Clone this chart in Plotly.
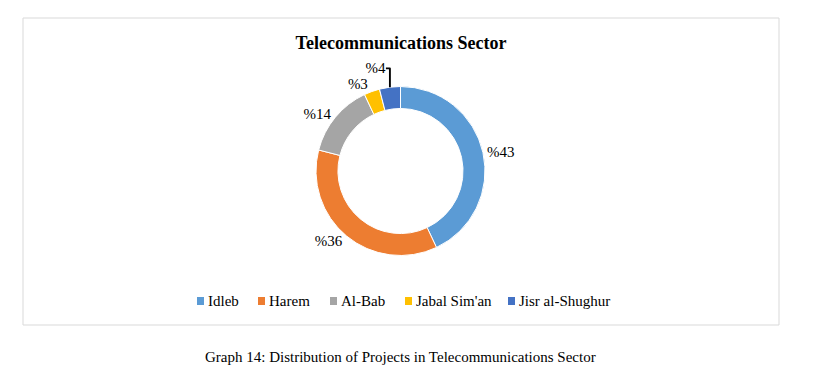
import plotly.graph_objects as go

categories = ["Idleb", "Harem", "Al-Bab", "Jabal Sim'an", "Jisr al-Shughur"]
values = [43, 36, 14, 3, 4]
colors = ["#5B9BD5", "#ED7D31", "#A5A5A5", "#FFC000", "#4472C4"]
title_text = "Telecommunications Sector"
caption_text = "Graph 14: Distribution of Projects in Telecommunications Sector"

W, H = 815, 373
cx, cy, R = 400.5, 171, 84.5
FONT = "Liberation Serif"

fig = go.Figure()
fig.add_trace(go.Pie(
    labels=categories,
    values=values,
    sort=False,
    direction="clockwise",
    rotation=0,
    hole=0.74,
    marker=dict(colors=colors, line=dict(color="white", width=1)),
    texttemplate="%%{value}",
    textposition="outside",
    textfont=dict(family=FONT, size=15, color="#000000"),
    hoverinfo="label+value",
    showlegend=False,
    domain=dict(x=[(cx - R) / W, (cx + R) / W], y=[(H - cy - R) / H, (H - cy + R) / H]),
))

# custom legend (Excel style: small square immediately before the label)
legend_marker_x = [197, 258, 330, 405, 508]
legend_y = 301
shapes = [dict(type="rect", xref="paper", yref="paper",
               x0=23 / W, x1=779 / W, y0=(H - 325) / H, y1=(H - 18) / H,
               line=dict(color="#D9D9D9", width=1), fillcolor="rgba(0,0,0,0)", layer="below")]
annotations = [dict(text=caption_text,
                    xref="paper", yref="paper", x=400 / W, y=(H - 357) / H,
                    xanchor="center", yanchor="middle", showarrow=False,
                    font=dict(family=FONT, size=15, color="#000000"))]
for name, col, mx in zip(categories, colors, legend_marker_x):
    shapes.append(dict(type="rect", xref="paper", yref="paper",
                       x0=mx / W, x1=(mx + 7) / W,
                       y0=(H - legend_y - 4) / H, y1=(H - legend_y + 4) / H,
                       line=dict(width=0), fillcolor=col))
    annotations.append(dict(text=name, xref="paper", yref="paper",
                            x=(mx + 9) / W, y=(H - legend_y) / H,
                            xanchor="left", yanchor="middle", showarrow=False,
                            font=dict(family=FONT, size=15, color="#000000")))

fig.update_layout(
    width=W, height=H,
    margin=dict(l=0, r=0, t=0, b=0),
    paper_bgcolor="white",
    plot_bgcolor="white",
    font=dict(family=FONT, color="#000000"),
    showlegend=False,
    title=dict(text="<b>" + title_text + "</b>", x=401 / W, xanchor="center",
               y=(H - 43) / H, yanchor="middle",
               font=dict(family=FONT, size=18, color="#000000")),
    shapes=shapes,
    annotations=annotations,
)

fig.write_html("out.html", config={"displayModeBar": False},
               post_script="document.body.style.margin='0';")
